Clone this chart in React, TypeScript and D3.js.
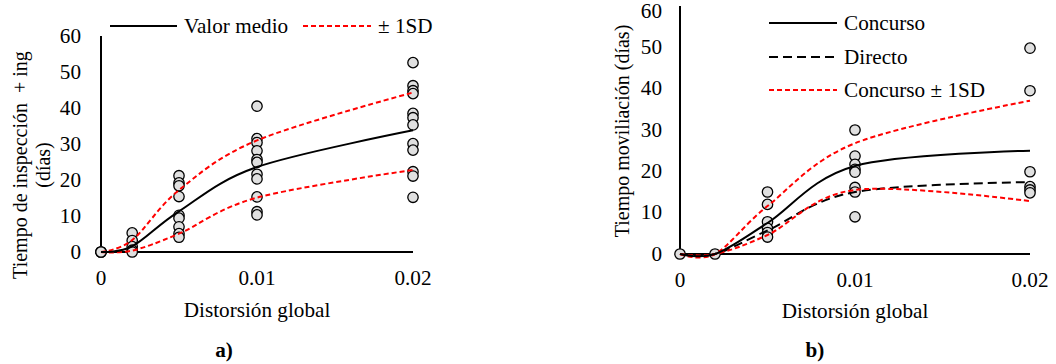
import React from "react";
import * as d3 from "d3";

// Drift levels shared by both panels
const driftLevels = [0, 0.002, 0.005, 0.01, 0.02];

// Panel a) inspection + engineering time, individual observations per drift level
const inspAt0 = [0, 0, 0];
const inspAt002 = [5.3, 3.2, 1.5, 0.5, 0];
const inspAt005 = [21.2, 19.2, 18.4, 15.4, 10.2, 9.4, 7, 5.1, 4.1];
const inspAt01 = [40.5, 31.5, 30.4, 28.1, 25.7, 24.9, 21.6, 20.3, 15.3, 11.2, 10.3];
const inspAt02 = [52.6, 46.2, 44.8, 44, 38.5, 37.3, 35.3, 30.1, 28.3, 22.3, 21.1, 15.2];

// Panel a) mean and ±1SD curves
const inspMean = [0, 1.6, 11.3, 23.6, 33.8];
const inspUpper = [0, 3.3, 17.2, 31, 44.3];
const inspLower = [0, 0.4, 5.1, 15.1, 22.8];

// Panel b) mobilization time, individual observations per drift level
const mobAt0 = [0];
const mobAt002 = [0];
const mobAt005 = [15, 12, 7.8, 6.2, 5.2, 4.1];
const mobAt01 = [30, 23.7, 21.7, 20.5, 19.8, 16.1, 15, 9];
const mobAt02 = [49.8, 39.5, 19.9, 16.3, 15.5, 14.8];

// Panel b) curves
const concurso = [0, 0, 7.5, 21.3, 25];
const directo = [0, 0, 5.7, 15, 17.4];
const concursoUpper = [0, 0, 11.6, 26.8, 37.1];
const concursoLower = [0, 0, 4.6, 15.5, 12.8];

const yTicks = [0, 10, 20, 30, 40, 50, 60];
const xTicks = [0, 0.01, 0.02];
const xTickLabels = ["0", "0.01", "0.02"];

const FONT = "'Liberation Serif', 'Times New Roman', serif";
const FS = 20;
const WIDEN = 1.06; // horizontal labels are set slightly wide
const RED = "#ff0000";
const DOT_FILL = "#e0e0e0";

type Curve = { values: number[]; stroke: string; dash?: string };

// Horizontal label, widened a little around its anchor point
function HText(props: {
  x: number;
  y: number;
  anchor?: "start" | "middle" | "end";
  bold?: boolean;
  children: React.ReactNode;
}) {
  const { x, y, anchor = "start", bold, children } = props;
  return (
    <text
      transform={`translate(${x},${y}) scale(${WIDEN},1)`}
      textAnchor={anchor}
      dominantBaseline="central"
      fontFamily={FONT}
      fontSize={FS}
      fontWeight={bold ? "bold" : "normal"}
    >
      {children}
    </text>
  );
}

function Panel(props: {
  x0: number;
  x1: number;
  yBottom: number;
  yTop: number;
  scatter: number[][];
  curves: Curve[];
  tickLabelRight: number;
}) {
  const { x0, x1, yBottom, yTop, scatter, curves, tickLabelRight } = props;
  const x = d3.scaleLinear().domain([0, 0.02]).range([x0, x1]);
  const y = d3.scaleLinear().domain([0, 60]).range([yBottom, yTop]);
  const line = d3
    .line<number>()
    .x((_, i) => x(driftLevels[i]))
    .y((v) => y(v))
    .curve(d3.curveCardinal.tension(0));

  return (
    <g>
      {/* axes */}
      <line x1={x0} x2={x0} y1={yBottom} y2={yTop} stroke="#000" strokeWidth={2} />
      <line x1={x0} x2={x1} y1={yBottom} y2={yBottom} stroke="#000" strokeWidth={2} />
      {yTicks.map((t) => (
        <HText key={t} x={tickLabelRight} y={Math.max(y(t), 11)} anchor="end">
          {t}
        </HText>
      ))}
      {xTicks.map((t, i) => (
        <HText key={t} x={x(t)} y={yBottom + 26} anchor="middle">
          {xTickLabels[i]}
        </HText>
      ))}
      {/* observations */}
      {scatter.map((vals, i) =>
        vals.map((v, j) => (
          <circle
            key={`${i}-${j}`}
            cx={x(driftLevels[i])}
            cy={y(v)}
            r={5.2}
            fill={DOT_FILL}
            stroke="#000"
            strokeWidth={1.3}
          />
        ))
      )}
      {/* fitted curves */}
      {curves.map((c, i) => (
        <path
          key={i}
          d={line(c.values) || ""}
          fill="none"
          stroke={c.stroke}
          strokeWidth={2}
          strokeDasharray={c.dash}
        />
      ))}
    </g>
  );
}

function LegendItem(props: { x: number; y: number; len: number; stroke: string; dash?: string; label: string }) {
  const { x, y, len, stroke, dash, label } = props;
  return (
    <g>
      <line x1={x} x2={x + len} y1={y} y2={y} stroke={stroke} strokeWidth={2} strokeDasharray={dash} />
      <HText x={x + len + 7} y={y}>
        {label}
      </HText>
    </g>
  );
}

export default function App() {
  const redDash = "5,3";
  const blackDash = "9,5";
  return (
    <svg
      width={1056}
      height={364}
      style={{ position: "absolute", left: 0, top: 0, background: "#fff" }}
    >
      <rect width={1056} height={364} fill="#fff" />
      {/* a) */}
      <Panel
        x0={101}
        x1={413}
        yBottom={252}
        yTop={36}
        tickLabelRight={81}
        scatter={[inspAt0, inspAt002, inspAt005, inspAt01, inspAt02]}
        curves={[
          { values: inspUpper, stroke: RED, dash: redDash },
          { values: inspLower, stroke: RED, dash: redDash },
          { values: inspMean, stroke: "#000" },
        ]}
      />
      <LegendItem x={110} y={26} len={67} stroke="#000" label="Valor medio" />
      <LegendItem x={303} y={26} len={68} stroke={RED} dash={redDash} label="± 1SD" />
      <g transform="translate(20,165) rotate(-90)">
        <text textAnchor="middle" dominantBaseline="central" fontFamily={FONT} fontSize={FS} style={{ whiteSpace: "pre" }}>
          {"Tiempo de inspección  + ing"}
        </text>
      </g>
      <g transform="translate(43,165) rotate(-90)">
        <text textAnchor="middle" dominantBaseline="central" fontFamily={FONT} fontSize={FS}>
          (días)
        </text>
      </g>
      <HText x={257} y={310} anchor="middle">
        Distorsión global
      </HText>
      <HText x={224} y={350} anchor="middle" bold>
        a)
      </HText>

      {/* b) */}
      <Panel
        x0={680}
        x1={1030}
        yBottom={254}
        yTop={6}
        tickLabelRight={662}
        scatter={[mobAt0, mobAt002, mobAt005, mobAt01, mobAt02]}
        curves={[
          { values: directo, stroke: "#000", dash: blackDash },
          { values: concursoUpper, stroke: RED, dash: redDash },
          { values: concursoLower, stroke: RED, dash: redDash },
          { values: concurso, stroke: "#000" },
        ]}
      />
      <LegendItem x={769} y={23} len={68} stroke="#000" label="Concurso" />
      <LegendItem x={769} y={57} len={68} stroke="#000" dash={blackDash} label="Directo" />
      <LegendItem x={769} y={90} len={68} stroke={RED} dash={redDash} label="Concurso ± 1SD" />
      <g transform="translate(622,131) rotate(-90)">
        <text textAnchor="middle" dominantBaseline="central" fontFamily={FONT} fontSize={FS}>
          Tiempo moviliación (días)
        </text>
      </g>
      <HText x={855} y={311} anchor="middle">
        Distorsión global
      </HText>
      <HText x={815} y={350} anchor="middle" bold>
        b)
      </HText>
    </svg>
  );
}
